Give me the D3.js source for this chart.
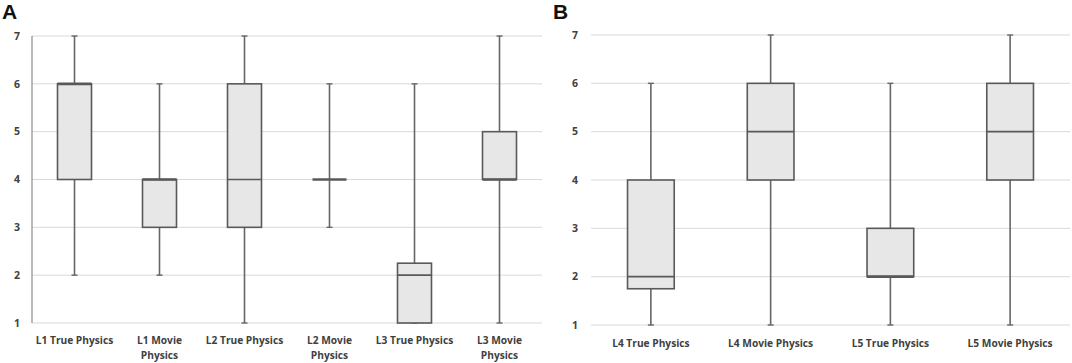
<!DOCTYPE html>
<html><head><meta charset="utf-8">
<script src="https://cdn.jsdelivr.net/npm/d3@7"></script>
<style>body{margin:0;background:#fff}svg{display:block}</style>
</head><body>
<svg id="c" width="1072" height="363"></svg>
<script>
// Panel A data
const catsA = ["L1 True Physics","L1 Movie Physics","L2 True Physics","L2 Movie Physics","L3 True Physics","L3 Movie Physics"];
const minA = [2,2,1,3,1,1];
const q1A  = [4,3,3,4,1,4];
const medA = [6,4,4,4,2,4];
const q3A  = [6,4,6,4,2.25,5];
const maxA = [7,6,7,6,6,7];
// Panel B data
const catsB = ["L4 True Physics","L4 Movie Physics","L5 True Physics","L5 Movie Physics"];
const minB = [1,1,1,1];
const q1B  = [1.75,4,2,4];
const medB = [2,5,2,5];
const q3B  = [4,6,3,6];
const maxB = [6,7,6,7];
const yTicks = [1,2,3,4,5,6,7];

const svg = d3.select("#c");
const font = "'Open Sans', sans-serif";
const textCol = "#404040";

function panel(o){
  const g = svg.append("g");
  const x = d3.scaleBand().domain(o.cats).range([o.x0,o.x1]).paddingInner(0).paddingOuter(0);
  const y = d3.scaleLinear().domain([1,7]).range([o.yb,o.yt]);
  g.selectAll("line.grid").data(yTicks).join("line")
    .attr("x1",o.x0).attr("x2",o.x1)
    .attr("y1",d=>y(d)).attr("y2",d=>y(d))
    .attr("stroke","#d9d9d9").attr("stroke-width",1);
  if(o.axisLine){
    g.append("line").attr("x1",o.x0).attr("x2",o.x0).attr("y1",y(7)).attr("y2",y(1))
      .attr("stroke","#8c8c8c").attr("stroke-width",1.2);
  }
  g.selectAll("text.yt").data(yTicks).join("text")
    .attr("x",o.tx).attr("y",d=>y(d)).attr("dy","0.35em")
    .attr("text-anchor","middle").attr("font-family",font).attr("font-weight",700)
    .attr("font-size",10.5).attr("fill",textCol).text(d=>d);
  const bw = x.bandwidth()*o.bf;
  const data = o.cats.map((c,i)=>({c,min:o.min[i],q1:o.q1[i],med:o.med[i],q3:o.q3[i],max:o.max[i]}));
  const b = g.selectAll("g.box").data(data).join("g").attr("transform",d=>`translate(${x(d.c)+x.bandwidth()/2},0)`);
  const wc = "#666666";
  b.append("line").attr("x1",0).attr("x2",0).attr("y1",d=>y(d.q3)).attr("y2",d=>y(d.max)).attr("stroke",wc).attr("stroke-width",1.6);
  b.append("line").attr("x1",0).attr("x2",0).attr("y1",d=>y(d.q1)).attr("y2",d=>y(d.min)).attr("stroke",wc).attr("stroke-width",1.6);
  b.append("line").attr("x1",-3).attr("x2",3).attr("y1",d=>y(d.max)).attr("y2",d=>y(d.max)).attr("stroke",wc).attr("stroke-width",1.4);
  b.append("line").attr("x1",-3).attr("x2",3).attr("y1",d=>y(d.min)).attr("y2",d=>y(d.min)).attr("stroke",wc).attr("stroke-width",1.4);
  b.append("rect").attr("x",-bw/2).attr("width",bw)
    .attr("y",d=>y(d.q3)).attr("height",d=>Math.max(0,y(d.q1)-y(d.q3)))
    .attr("fill","#e7e7e7").attr("stroke","#595959").attr("stroke-width",1.6);
  b.append("line").attr("x1",-bw/2).attr("x2",bw/2).attr("y1",d=>y(d.med)).attr("y2",d=>y(d.med))
    .attr("stroke","#595959").attr("stroke-width",d=>(d.med===d.q1||d.med===d.q3)?2.6:1.6);
  const lab = g.selectAll("text.cat").data(data).join("text")
    .attr("x",d=>x(d.c)+x.bandwidth()/2).attr("y",o.ly)
    .attr("text-anchor","middle").attr("font-family",font).attr("font-weight",700)
    .attr("font-size",10.2).attr("fill",textCol);
  lab.each(function(d){
    const t = d3.select(this);
    const lines = (o.wrap && o.wrap.includes(d.c)) ? [d.c.replace(/ Physics$/,""),"Physics"] : [d.c];
    lines.forEach((l,k)=>t.append("tspan").attr("x",x(d.c)+x.bandwidth()/2).attr("dy",k===0?0:15).text(l));
  });
  svg.append("text").attr("x",o.lx).attr("y",o.lyL).attr("font-family","'Liberation Sans', Arial, sans-serif")
    .attr("font-weight",700).attr("font-size",21).attr("fill","#111").text(o.letter);
}

panel({cats:catsA,min:minA,q1:q1A,med:medA,q3:q3A,max:maxA,x0:32,x1:542,yt:36,yb:323,tx:17,bf:0.4,
  axisLine:true,ly:344,wrap:["L1 Movie Physics","L2 Movie Physics","L3 Movie Physics"],letter:"A",lx:2,lyL:19});
panel({cats:catsB,min:minB,q1:q1B,med:medB,q3:q3B,max:maxB,x0:591,x1:1070,yt:35,yb:325,tx:575,bf:0.39,
  axisLine:false,ly:347,letter:"B",lx:553,lyL:19});
</script>
</body></html>
